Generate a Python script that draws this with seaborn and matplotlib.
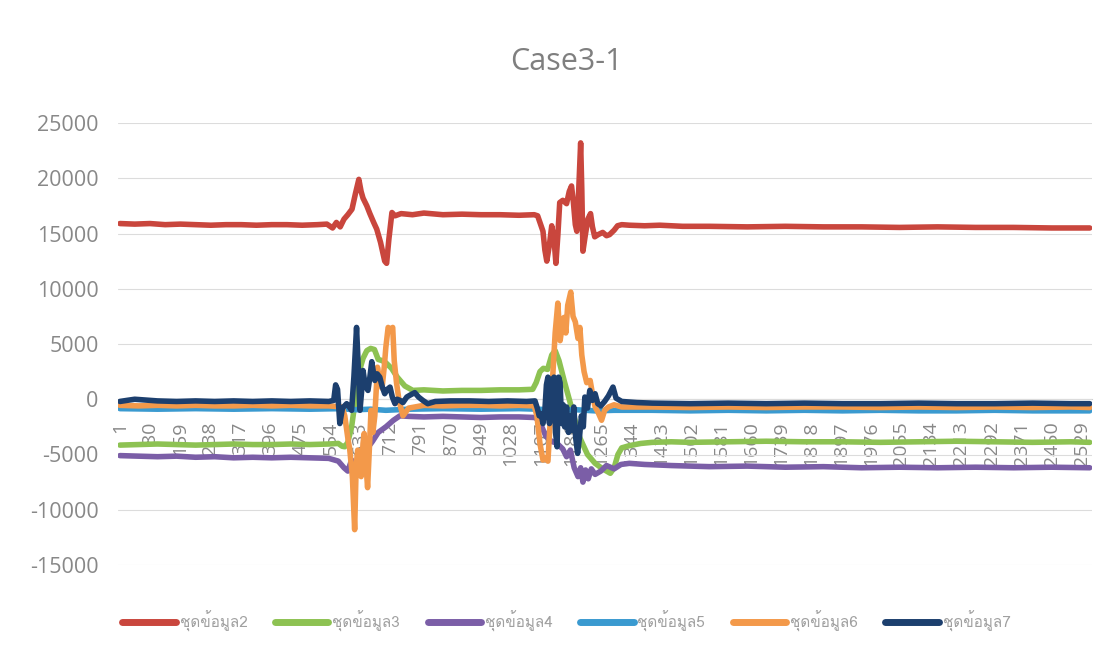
import matplotlib
matplotlib.use("Agg")
import matplotlib.pyplot as plt
from matplotlib import font_manager, ft2font
from matplotlib.lines import Line2D
import pandas as pd
import seaborn as sns

# ---- data -------------------------------------------------------------
title = "Case3-1"
series_names = ["ชุดข้อมูล2", "ชุดข้อมูล3", "ชุดข้อมูล4",
                "ชุดข้อมูล5", "ชุดข้อมูล6", "ชุดข้อมูล7"]
series_colors = ["#C9463D", "#8DC252", "#7B5EA7", "#3A9AD0", "#F3994A", "#1C3F6E"]

x_tick_labels = [1, 80, 159, 238, 317, 396, 475, 554, 633, 712, 791, 870, 949,
                 1028, 1107, 1186, 1265, 1344, 1423, 1502, 1581, 1660, 1739,
                 1818, 1897, 1976, 2055, 2134, 2213, 2292, 2371, 2450, 2529]
y_ticks = [-15000, -10000, -5000, 0, 5000, 10000, 15000, 20000, 25000]

red_x = [1, 40, 80, 120, 160, 200, 240, 280, 320, 360,
         400, 440, 480, 520, 545, 560, 570, 580, 590, 600,
         611, 620, 629, 635, 640, 650, 658, 668, 676, 686,
         697, 702, 708, 716, 724, 740, 770, 800, 850, 900,
         950, 1000, 1050, 1090, 1099, 1106, 1113, 1118, 1123, 1130,
         1136, 1142, 1147, 1152, 1157, 1165, 1175, 1182, 1188, 1193,
         1198, 1202, 1207, 1212, 1215, 1218, 1224, 1231, 1238, 1243,
         1249, 1258, 1270, 1280, 1288, 1300, 1309, 1320, 1340, 1380,
         1420, 1480, 1550, 1650, 1750, 1850, 1950, 2050, 2150, 2250,
         2350, 2450, 2550]
red_y = [15900, 15850, 15900, 15800, 15850, 15800, 15750, 15800, 15800, 15750,
         15800, 15800, 15750, 15800, 15850, 15500, 16000, 15600, 16300, 16700,
         17200, 18600, 19900, 18800, 18200, 17500, 16800, 16000, 15400, 14200,
         12500, 12300, 14500, 16900, 16600, 16800, 16700, 16850, 16700, 16750,
         16700, 16700, 16650, 16700, 16600, 15900, 15200, 13500, 12500, 14000,
         15700, 14500, 12300, 14800, 17800, 18000, 17700, 18800, 19300, 17800,
         15800, 15200, 19000, 23200, 19000, 13400, 14800, 16300, 16800, 15600,
         14700, 14900, 15100, 14800, 14900, 15300, 15700, 15800, 15750, 15700,
         15750, 15650, 15650, 15600, 15650, 15600, 15600, 15550, 15600, 15550,
         15550, 15500, 15500]

green_x = [1, 50, 100, 150, 200, 250, 300, 350, 400, 450, 500, 550,
           575, 585, 592, 600, 610, 620, 630, 640, 650, 660,
           670, 680, 690, 700, 715, 730, 750, 771, 800, 850,
           900, 950, 1000, 1050, 1086, 1095, 1105, 1114, 1125, 1136,
           1145, 1155, 1170, 1190, 1210, 1230, 1250, 1270, 1290, 1300,
           1310, 1320, 1340, 1370, 1400, 1450, 1500, 1600, 1700, 1800,
           1900, 2000, 2100, 2200, 2300, 2400, 2500, 2550]
green_y = [-4150, -4100, -4050, -4100, -4150, -4100, -4050, -4100, -4100, -4050, -4100, -4050,
           -4000, -4250, -4300, -3900, -2500, 0, 2500, 3700, 4400, 4600,
           4500, 3600, 3500, 3300, 2800, 2000, 1200, 800, 850, 750,
           800, 800, 850, 850, 900, 1500, 2500, 2800, 2700, 4000,
           4400, 3500, 1500, -1000, -3500, -5000, -5800, -6300, -6700, -6200,
           -5000, -4400, -4200, -4000, -3900, -3850, -3900, -3850, -3800, -3850,
           -3850, -3900, -3850, -3800, -3850, -3900, -3850, -3900]

purple_x = [1, 50, 100, 150, 200, 250, 300, 350, 400, 450, 500, 550,
            575, 590, 600, 610, 620, 635, 650, 665, 680, 700,
            720, 737, 760, 800, 850, 900, 950, 1000, 1050, 1090,
            1100, 1110, 1120, 1135, 1150, 1165, 1175, 1185, 1195, 1205,
            1212, 1218, 1225, 1232, 1240, 1250, 1265, 1280, 1300, 1318,
            1340, 1380, 1450, 1550, 1650, 1750, 1850, 1950, 2050, 2150,
            2250, 2350, 2450, 2550]
purple_y = [-5100, -5150, -5200, -5150, -5250, -5200, -5300, -5250, -5300, -5250, -5300, -5350,
            -5600, -6200, -6500, -5500, -6800, -5000, -4500, -3800, -3000, -2500,
            -1900, -1500, -1550, -1600, -1550, -1600, -1650, -1600, -1600, -1650,
            -1800, -2500, -3300, -3800, -4000, -4500, -5200, -4600, -6200, -7000,
            -6200, -7500, -6400, -7200, -6300, -6800, -6500, -6000, -6300, -5900,
            -5800, -5900, -6000, -6100, -6050, -6150, -6100, -6200, -6150, -6200,
            -6150, -6200, -6150, -6200]

blue_x = [1, 100, 200, 300, 400, 500, 580, 620, 660, 700, 760, 850, 950, 1050, 1100, 1150,
          1200, 1250, 1300, 1400, 1500, 1600, 1700, 1800, 1900, 2000, 2100, 2200, 2300,
          2400, 2500, 2550]
blue_y = [-850, -900, -850, -900, -850, -900, -850, -950, -900, -1000, -900, -850, -900, -850, -900, -1000,
          -950, -1050, -1000, -1000, -1050, -1000, -1050, -1000, -1050, -1000, -1050, -1050, -1000,
          -1050, -1050, -1050]

orange_x = [1, 50, 100, 150, 200, 250, 300, 350, 400, 450, 500, 550,
            585, 592, 600, 605, 612, 618, 622, 626, 630, 635,
            640, 643, 648, 652, 656, 661, 666, 671, 678, 684,
            690, 696, 700, 706, 712, 718, 722, 728, 735, 745,
            760, 800, 850, 900, 950, 1000, 1050, 1090, 1097, 1105,
            1113, 1120, 1126, 1132, 1138, 1145, 1152, 1158, 1163, 1168,
            1173, 1178, 1186, 1192, 1198, 1205, 1210, 1215, 1221, 1228,
            1237, 1244, 1250, 1258, 1267, 1275, 1285, 1300, 1320, 1400,
            1500, 1600, 1700, 1800, 1900, 2000, 2100, 2200, 2300, 2400,
            2500, 2550]
orange_y = [-550, -600, -550, -600, -550, -600, -600, -550, -600, -550, -600, -600,
            -700, -1500, -3500, -4500, -7000, -11800, -6000, -4600, -5500, -7000,
            -4000, -3100, -6000, -8000, -5000, -1000, -3000, -1500, 2900, 1500,
            1000, 3000, 4700, 6500, 6300, 6500, 3500, 1500, -200, -1500,
            -800, -550, -600, -550, -550, -600, -550, -600, -1500, -4000,
            -5500, -5300, -5600, -2000, 1700, 6000, 8700, 5300, 6500, 7400,
            6000, 8500, 9700, 7500, 7000, 5500, 6500, 4000, 2500, 1500,
            1700, 300, -700, -1200, -1900, -1000, -700, -500, -700, -700,
            -750, -700, -750, -700, -700, -750, -700, -750, -700, -750,
            -700, -750]

navy_x = [1, 20, 40, 60, 100, 150, 200, 250, 300, 350,
          400, 450, 500, 550, 563, 568, 573, 579, 586, 597,
          604, 610, 616, 623, 628, 632, 636, 640, 646, 653,
          658, 663, 667, 671, 677, 684, 690, 697, 704, 711,
          717, 724, 730, 737, 745, 755, 765, 776, 786, 797,
          810, 830, 870, 920, 970, 1020, 1070, 1092, 1098, 1103,
          1108, 1113, 1118, 1122, 1126, 1130, 1134, 1138, 1142, 1146,
          1150, 1154, 1158, 1162, 1166, 1170, 1175, 1180, 1185, 1189,
          1194, 1199, 1204, 1209, 1214, 1219, 1223, 1230, 1236, 1243,
          1250, 1257, 1265, 1275, 1285, 1297, 1305, 1320, 1360, 1400,
          1500, 1600, 1700, 1800, 1900, 2000, 2100, 2200, 2300, 2400,
          2500, 2550]
navy_y = [-200, -100, 0, -50, -150, -200, -150, -200, -150, -200,
          -150, -200, -150, -200, -100, 1300, 900, -2200, -800, -400,
          -700, -1000, 2000, 6500, 2500, -1000, 600, 2600, 1200, 800,
          2000, 3400, 2500, 1700, 2300, 2000, 1200, 500, 900, 1100,
          200, -400, 0, -100, -300, 200, 400, 600, 200, -100,
          -400, -200, -150, -150, -200, -150, -200, -150, -800, -1500,
          -1300, -2200, -1000, 1300, 2000, -2200, 1800, -1500, 2000, -3000,
          -4300, 2000, 1500, -2200, -500, -2500, -700, -3000, -1500, -2800,
          -700, -3500, -4900, -3400, -1500, -2500, 200, -800, 800, -100,
          500, -400, -600, -200, 300, 1100, 100, -200, -300, -350,
          -400, -350, -400, -350, -400, -400, -350, -400, -400, -350,
          -400, -400]

series_x = [red_x, green_x, purple_x, blue_x, orange_x, navy_x]
series_y = [red_y, green_y, purple_y, blue_y, orange_y, navy_y]

# ---- long-form table for seaborn ----------------------------------------
frames = []
for name, xs, ys in zip(series_names, series_x, series_y):
    frames.append(pd.DataFrame({"index": xs, "value": ys, "series": name}))
df = pd.concat(frames, ignore_index=True)

# ---- fonts --------------------------------------------------------------
sns.set_theme(style="white")


def fonts_with(char):
    names = []
    for entry in font_manager.fontManager.ttflist:
        try:
            cmap = ft2font.FT2Font(entry.fname).get_charmap()
        except Exception:
            continue
        if ord(char) in cmap and entry.name not in names:
            names.append(entry.name)
    return names


thai_families = fonts_with("ช")
base_family = "Open Sans"
plt.rcParams["font.family"] = [base_family, "DejaVu Sans"]
legend_family = thai_families[:1] + [base_family, "DejaVu Sans"]

grey_text = "#888888"

# ---- figure -------------------------------------------------------------
fig = plt.figure(figsize=(11.15, 6.54), dpi=100)
ax = fig.add_axes([118 / 1115, 1 - 565 / 654, (1092 - 118) / 1115, (565 - 123) / 654])

sns.lineplot(data=df, x="index", y="value", hue="series",
             hue_order=series_names, palette=series_colors,
             estimator=None, sort=True, linewidth=4.0, legend=False, ax=ax)
for ln in ax.get_lines():
    ln.set_solid_joinstyle("round")
    ln.set_solid_capstyle("round")

# horizontal axis line sits at zero, labels hang below it
for side in ["top", "right", "left"]:
    ax.spines[side].set_visible(False)
ax.spines["bottom"].set_position(("data", 0))
ax.spines["bottom"].set_color("#d0d0d0")
ax.spines["bottom"].set_linewidth(0.8)
ax.spines["bottom"].set_zorder(0.5)

ax.set_xlim(-4, 2556)
ax.set_ylim(-15000, 25000)
ax.set_yticks(y_ticks)
ax.set_yticklabels([str(v) for v in y_ticks])
ax.set_xticks(x_tick_labels)
ax.set_xticklabels([str(v) for v in x_tick_labels])
ax.set_xlabel("")
ax.set_ylabel("")

ax.yaxis.grid(True, color="#dcdcdc", linewidth=0.8)
ax.xaxis.grid(False)
ax.set_axisbelow(True)

ax.tick_params(axis="x", length=0, pad=16, labelsize=14, labelcolor=grey_text,
               labelrotation=90)
ax.tick_params(axis="y", length=0, pad=14, labelsize=15.5, labelcolor=grey_text)
for lab in ax.get_xticklabels():
    lab.set_verticalalignment("top")
    lab.set_horizontalalignment("center")

fig.text(0.508, 0.905, title, ha="center", va="center", fontsize=22, color="#7f7f7f")

handles = [Line2D([0], [0], color=c, linewidth=5, solid_capstyle="round")
           for c in series_colors]
leg = fig.legend(handles, series_names, loc="center", bbox_to_anchor=(0.508, 0.05),
                 ncol=6, frameon=False, handlelength=3.5, handletextpad=0.25,
                 columnspacing=1.8, prop={"family": legend_family, "size": 11})
for t in leg.get_texts():
    t.set_color("#a0a0a0")

fig.savefig("out.png", dpi=100, facecolor="white")
